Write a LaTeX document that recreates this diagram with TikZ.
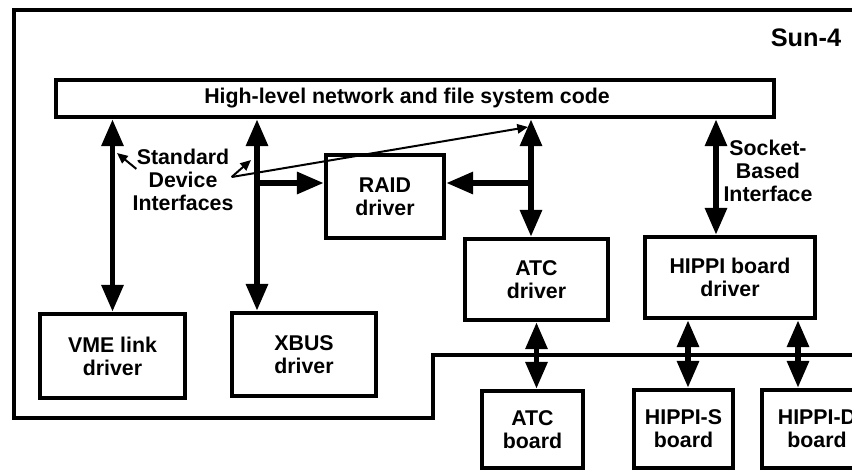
\documentclass[tikz,border=0pt]{standalone}
\usepackage{fontspec}
\setmainfont{Liberation Sans}
\usepackage{tikz}
\usetikzlibrary{arrows.meta,positioning,calc}
\newcommand{\boxfont}{\fontsize{16}{17.25}\selectfont\bfseries}
\tikzstyle{block} = [rectangle, draw=black, line width=3.6pt, text centered,
    align=center, inner sep=0pt, font=\boxfont]
\tikzstyle{note} = [align=center, inner sep=0pt, font=\boxfont]
\tikzstyle{arrow} = [{Triangle[length=20pt,width=16pt]}-{Triangle[length=20pt,width=16pt]}, line width=3.8pt]
\tikzstyle{oneway} = [-{Triangle[length=20pt,width=16pt]}, line width=3.8pt]
\tikzstyle{pointer} = [-{Triangle[length=8pt,width=7pt]}, line width=1.5pt]

\begin{document}
\begin{tikzpicture}[x=0.75pt, y=-0.75pt]
\useasboundingbox (0,0) rectangle (852,472);
\clip (0,0) rectangle (852,472);
% Sun-4 enclosure
\draw[line width=3pt] (880,10) -- (14,10) -- (14,418) -- (433,418) -- (433,355) -- (880,355);
\node[note, font=\fontsize{19}{21}\selectfont\bfseries] (n12) at (806,38) {Sun-4};

\node[block, minimum width=538.5pt, minimum height=27.75pt] (n1) at (415,98.5) {High-level network and file system code\hspace*{12pt}};
\node[block, minimum width=108.75pt, minimum height=63pt] (n2) at (112.5,356) {VME link\\driver};
\node[block, minimum width=108pt, minimum height=62.25pt] (n3) at (304,354.5) {XBUS\\driver};
\node[block, minimum width=88.5pt, minimum height=62.25pt] (n4) at (385,196.5) {RAID\\driver};
\node[block, minimum width=107.25pt, minimum height=60.75pt] (n5) at (536.5,279.5) {ATC\\driver};
\node[block, minimum width=127.5pt, minimum height=60.75pt] (n6) at (730,277.5) {HIPPI board\\driver};
\node[block, minimum width=75.75pt, minimum height=57.75pt] (n7) at (532.5,429.5) {ATC\\board};
\node[block, minimum width=74.25pt, minimum height=58.5pt] (n8) at (683.5,429) {HIPPI-S\\board};
\node[block, minimum width=82.5pt, minimum height=58.5pt] (n9) at (817,429) {HIPPI-D\\board};

\node[note] (n10) at (183,180) {Standard\\Device\\Interfaces};
\node[note] (n11) at (768,171) {Socket-\\Based\\Interface};

% junctions on the shafts
\coordinate (j1) at (257,183);
\coordinate (j2) at (531,183);
\coordinate (j3) at (716,180);
\coordinate (j4) at (688,355);
\coordinate (j5) at (798,355);

\draw[arrow] (n2.north |- n1.south) -- (n2.north);
\draw[arrow] (j1 |- n1.south) -- (j1 |- n3.north);
\draw[oneway] (j1) -- (j1 -| n4.west);
\draw[arrow] (j2 |- n1.south) -- (j2 |- n5.north);
\draw[oneway] (j2) -- (j2 -| n4.east);
\draw[arrow] (j3 |- n1.south) -- (j3 |- n6.north);
\draw[arrow] (n5.south) -- (n5.south |- n7.north);
\draw[arrow] (j4 |- n6.south) -- (j4 |- n8.north);
\draw[arrow] (j5 |- n6.south) -- (j5 |- n9.north);

% pointers from the label
\coordinate (p1) at (117,153);
\coordinate (p2) at (251,160);
\coordinate (p3) at (528,127);
\draw[pointer] ($(n10.north west)+(4,20)$) -- (p1);
\draw[pointer] ($(n10.east)+(-2,-3)$) -- (p2);
\draw[pointer] ($(n10.east)+(-2,-3)$) -- (p3);
\end{tikzpicture}
\end{document}
